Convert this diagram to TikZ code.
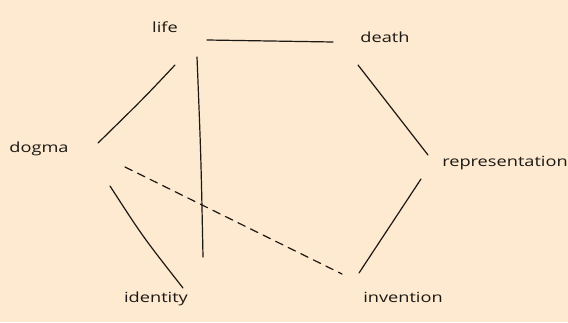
\documentclass[tikz,border=0pt]{standalone}
\usepackage{fontspec}
\newfontfamily\hand{Open Sans}[FakeStretch=1.3]
\definecolor{paper}{RGB}{253,234,208}
\definecolor{ink}{RGB}{28,24,20}
\begin{document}
\begin{tikzpicture}[x=1pt,y=1pt,
  word/.style={inner sep=0pt,text=ink,font=\hand\fontsize{14}{16}\selectfont},
  stroke/.style={draw=ink,line width=1.2pt,line cap=round},
  dashstroke/.style={stroke,dash pattern=on 8pt off 6pt}]
\fill[paper] (0,0) rectangle (568,322);
\useasboundingbox (0,0) rectangle (568,322);
\node[word] (life) at (165,295) {life};
\node[word] (death) at (385,285) {death};
\node[word] (dogma) at (39,173) {dogma};
\node[word] (repr) at (505,159) {representation};
\node[word] (identity) at (156,23) {identity};
\node[word] (invention) at (403,25) {invention};
\draw[stroke] ([shift={(42,-13)}]life.center) -- ([shift={(-52,-5)}]death.center);
\draw[stroke] ([shift={(10,-38)}]life.center) .. controls ([shift={(-22,-72)}]life.center) .. ([shift={(59,6)}]dogma.center);
\draw[stroke] ([shift={(32,-30)}]life.center) .. controls ([shift={(36,-130)}]life.center) .. ([shift={(47,42)}]identity.center);
\draw[stroke] ([shift={(-27,-28)}]death.center) -- ([shift={(-77,8)}]repr.center);
\draw[stroke] ([shift={(-84,-16)}]repr.center) -- ([shift={(-44,24)}]invention.center);
\draw[stroke] ([shift={(71,-37)}]dogma.center) .. controls ([shift={(104,-88)}]dogma.center) .. ([shift={(27,11)}]identity.center);
\draw[dashstroke] ([shift={(86,-18)}]dogma.center) -- ([shift={(-61,23)}]invention.center);
\end{tikzpicture}
\end{document}
